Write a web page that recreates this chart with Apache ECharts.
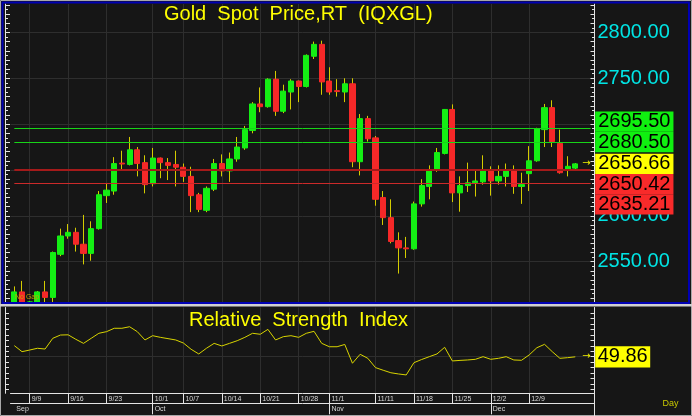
<!DOCTYPE html>
<html><head><meta charset="utf-8">
<script src="https://cdn.jsdelivr.net/npm/echarts@6/dist/echarts.min.js"></script>
<style>html,body{margin:0;padding:0;background:#161616}#c{width:692px;height:416px}</style>
</head><body><div id="c"></div>
<script>
// ---------------- data ----------------
const dates = ['9/5','9/6','9/9','9/10','9/11','9/12','9/13','9/16','9/17','9/18','9/19','9/20','9/23','9/24','9/25','9/26','9/27','9/30',
 '10/1','10/2','10/3','10/4','10/7','10/8','10/9','10/10','10/11','10/14','10/15','10/16','10/17','10/18','10/21','10/22','10/23','10/24','10/25','10/28','10/29','10/30','10/31',
 '11/1','11/4','11/5','11/6','11/7','11/8','11/11','11/12','11/13','11/14','11/15','11/18','11/19','11/20','11/21','11/22','11/25','11/26','11/27','11/28','11/29',
 '12/2','12/3','12/4','12/5','12/6','12/9','12/10','12/11','12/12','12/13','12/16','12/17'];
const opens = [2495,2517,2497,2506,2517,2511,2558,2578,2582,2569,2559,2586,2622,2627,2657.5,2656,2672,2658,
 2635,2663,2658,2656,2653,2643,2623,2606,2629,2657,2649,2662,2674,2693,2722,2719,2749,2714,2735,2747,2741,2774,2787,
 2747,2736.5,2735,2744,2659,2706,2685,2620,2598,2573,2565,2564,2613,2632,2650,2668,2716,2625,2633,2636,2637,
 2650,2638,2643,2650,2632,2646,2660,2694,2718,2679,2651,2652];
const closes = [2517,2497,2506,2517,2511,2560,2578,2582,2569,2559,2586,2623,2628,2657,2656.5,2672,2657,2634,
 2663,2658,2655,2653,2643,2622,2607,2630,2657,2649,2662,2675,2694,2722,2719,2749,2714,2736,2747,2741,2775,2787,2746,
 2735,2735.5,2744,2659,2706,2684,2618,2598,2572,2565,2564,2613,2633,2649,2669,2716,2625,2633,2636,2638,2649,
 2638,2643,2649,2632,2634,2660,2695,2718,2681,2647,2654,2656.66];
const lows = [2491,2485,2493,2500,2500,2506,2556,2575,2561,2547,2551,2585,2614,2623,2650,2655,2643,2624.5,
 2632,2641,2639,2632,2637,2604,2604,2604,2627,2643,2637,2659,2672,2690,2713,2718,2709,2712,2716,2724,2740,2771,2732,
 2732,2730,2724,2653,2644,2681,2611,2590,2570,2537,2554,2563,2610,2618,2648,2667,2615,2604.5,2626,2621,2634,
 2622,2634,2632,2624,2613,2627,2659,2675,2675,2646,2643,2650];
const highs = [2523,2529,2507,2518,2529,2561,2586,2591,2587,2601,2594,2627,2635,2664,2671,2686,2675,2666,
 2674,2663.5,2663,2671,2657,2653.5,2625,2632,2662,2667,2669,2686,2698,2724,2740,2750,2758,2743,2749,2747.5,2776,2790,2791,
 2762,2749,2750,2750,2711,2709,2687,2627,2618,2582,2577,2615.5,2640,2655,2674,2716.5,2721.5,2643,2658,2650,2666,
 2654,2655,2657,2655,2647,2676,2696,2722,2726,2694,2665,2657.5];
const rsi = [60.1,54.6,56.1,57.7,57.0,66.8,69.8,70.0,65.9,62.2,66.8,71.4,72.9,76.0,76.0,77.4,72.9,65.3,
 69.2,67.7,66.5,65.3,62.5,56.8,52.5,57.7,62.2,59.8,62.2,64.6,67.7,71.4,70.5,75.0,65.3,68.3,69.2,67.7,71.4,73.2,62.2,
 59.1,59.1,61.2,44.0,52.2,48.5,40.0,37.6,35.3,34.2,33.3,44.5,47.4,50.0,52.5,58.6,46.1,46.6,47.0,47.6,50.0,
 47.6,48.5,50.0,47.0,46.7,51.6,58.2,61.3,54.6,48.5,49.1,49.86];
const priceLevels = [2695.50, 2680.50, 2650.42, 2635.21];
const priceTickLabels = [2550, 2600, 2650, 2700, 2750, 2800];
const rsiGridLevels = [50];
const weekTicks = ['9/9','9/16','9/23','10/1','10/7','10/14','10/21','10/28','11/1','11/11','11/18','11/25','12/2','12/9'];
const monthNames = ['Sep','Oct','Nov','Dec'];
const padSlots = ['', ' '];

// ---------------- layout / style ----------------
const FONT = '"Liberation Sans", Arial, sans-serif';
const BG = '#161616', GRIDC = '#2e2e2e', AX = '#e4e4e4';
const UP = '#14ee14', DOWN = '#f52828', WICK = '#d4cc00';
const G = {left: 10.5, right: 97.5};
const P = {top: 4, height: 298, min: 2506, max: 2831};
const R = {top: 307.5, height: 85.8, min: 16.5, max: 95};
const NOLINE = {color: 'rgba(0,0,0,0)', width: 0};

const cats = dates.concat(padSlots);
const N = cats.length;
const lastClose = closes[closes.length - 1];
const lastRsi = rsi[rsi.length - 1];
const weekIdx = weekTicks.map(d => dates.indexOf(d));
const weekSet = new Set(weekIdx);
const monthLabelOf = {};
const monthTickSet = new Set();
let mk = 0;
dates.forEach((d, i) => {
  const m = d.split('/')[0];
  if (i === 0 || m !== dates[i - 1].split('/')[0]) {
    monthLabelOf[i] = monthNames[mk++];
    if (i > 0) monthTickSet.add(i);
  }
});
const steps = (a, b, s) => { const r = []; for (let v = a; v <= b + 1e-9; v += s) r.push(+v.toFixed(4)); return r; };
const majorP = steps(2510, 2830, 10), minorP = steps(2515, 2825, 10);
const rsiTicks = steps(20, 90, 5);
// the plot window clips candles that run past the bottom of the price panel
const clipP = v => Math.min(P.max, Math.max(P.min, v));

function tickAxis(grid, pos, offset, range, vals, len, showLine) {
  return {type: 'value', gridIndex: grid, position: pos, offset: offset, min: range.min, max: range.max,
    axisLine: {show: showLine, onZero: false, lineStyle: {color: AX, width: 1}},
    axisTick: {show: true, inside: true, length: len, customValues: vals, lineStyle: {color: AX, width: 1}},
    axisLabel: {show: false}, splitLine: {show: false}};
}
function splitAxisY(grid, range, vals) {
  return {type: 'value', gridIndex: grid, min: range.min, max: range.max, position: 'left',
    axisLine: {show: false, onZero: false}, axisTick: {show: false, customValues: vals},
    axisLabel: {show: false}, splitLine: {show: true, lineStyle: {color: GRIDC, width: 1}}};
}
function splitAxisX(grid) {
  return {type: 'value', gridIndex: grid, min: -0.5, max: N - 0.5, position: 'top',
    axisLine: {show: false, onZero: false}, axisTick: {show: false, customValues: weekIdx},
    axisLabel: {show: false}, splitLine: {show: true, lineStyle: {color: GRIDC, width: 1}}};
}

// price level labels (sorted top->bottom), colour from relation to last price
const levelItems = priceLevels.concat([lastClose]).sort((a, b) => b - a).map(v => ({
  value: v, kind: v > lastClose ? 'res' : (v < lastClose ? 'sup' : 'last')
}));
let supCount = 0;
levelItems.forEach(it => {
  if (it.kind === 'res') { it.bg = '#10f010'; it.line = {color: '#18d418', width: 1, type: 'solid'}; }
  else if (it.kind === 'sup') {
    it.bg = '#f82a2a';
    it.line = supCount === 0 ? {color: '#a41a1a', width: 2, type: 'solid'} : {color: '#cc2a2a', width: 1, type: 'solid'};
    supCount++;
  } else { it.bg = '#ffff00'; it.line = NOLINE; }
});
const anchorIdx = levelItems.findIndex(it => it.kind === 'last');

function levelMarkData(offsets) {
  return levelItems.map((it, k) => [
    {xAxis: 0, yAxis: it.value, lineStyle: it.line,
     label: {formatter: it.value.toFixed(2), backgroundColor: it.bg, offset: [0, offsets ? offsets[k] : 0]}},
    {xAxis: N - 1, yAxis: it.value}
  ]);
}
const boxLabel = {show: true, position: 'end', distance: 4.5, color: '#000', fontSize: 20, fontFamily: FONT,
  padding: [0, 3, 0, 3], lineHeight: 20.3};
const arrowLabel = {show: true, position: 'inside', formatter: '\u2192', color: '#f0f000', fontSize: 10,
  fontFamily: 'DejaVu Sans', offset: [3.5, -0.5]};

const chart = echarts.init(document.getElementById('c'), null, {renderer: 'canvas'});
const option = {
  backgroundColor: BG,
  animation: false,
  title: [
    {text: 'Gold  Spot  Price,RT  (IQXGL)', left: 164, top: 4, padding: 0,
     textStyle: {color: '#ffff00', fontSize: 20, fontWeight: 'normal', fontFamily: FONT}},
    {text: 'Relative  Strength  Index', left: 189, top: 310, padding: 0,
     textStyle: {color: '#ffff00', fontSize: 20, fontWeight: 'normal', fontFamily: FONT}}
  ],
  grid: [
    {left: G.left, right: G.right, top: P.top, height: P.height},
    {left: G.left, right: G.right, top: R.top, height: R.height}
  ],
  xAxis: [
    {type: 'category', gridIndex: 0, data: cats, boundaryGap: true, show: false},
    splitAxisX(0),
    {type: 'category', gridIndex: 1, data: cats, boundaryGap: true, position: 'bottom',
     axisLine: {show: true, onZero: false, lineStyle: {color: AX, width: 1}},
     axisTick: {show: true, alignWithLabel: true, interval: (i) => weekSet.has(i), length: 10, lineStyle: {color: AX}},
     axisLabel: {show: true, interval: (i) => weekSet.has(i), align: 'left', padding: [0, 0, 0, 2], margin: 2.5,
       color: '#d8d8d8', fontSize: 7, fontFamily: FONT},
     splitLine: {show: false}},
    {type: 'category', gridIndex: 1, data: cats, boundaryGap: true, position: 'bottom', offset: 10,
     axisLine: {show: true, onZero: false, lineStyle: {color: AX, width: 1}},
     axisTick: {show: true, alignWithLabel: true, interval: (i) => monthTickSet.has(i), length: 11, lineStyle: {color: AX}},
     axisLabel: {show: true, interval: (i) => monthLabelOf[i] !== undefined, formatter: (v, i) => monthLabelOf[i] || '',
       align: 'left', padding: [0, 0, 0, 2], margin: 2, color: '#d8d8d8', fontSize: 7, fontFamily: FONT},
     splitLine: {show: false}},
    splitAxisX(1)
  ],
  yAxis: [
    Object.assign(tickAxis(0, 'right', 0, P, majorP, 4, true), {
      axisLabel: {show: true, customValues: priceTickLabels, formatter: v => Number(v).toFixed(2), margin: 3,
        color: '#00e4e4', fontSize: 20, fontFamily: FONT}}),
    tickAxis(0, 'right', 0, P, minorP, 2.5, false),
    tickAxis(0, 'left', 5.5, P, majorP, 5, true),
    tickAxis(0, 'left', 5.5, P, minorP, 3, false),
    splitAxisY(0, P, priceTickLabels),
    tickAxis(1, 'right', 0, R, rsiTicks, 4, true),
    tickAxis(1, 'left', 5.5, R, rsiTicks, 4, true),
    splitAxisY(1, R, rsiGridLevels)
  ],
  series: [
    {type: 'candlestick', name: 'wick', xAxisIndex: 0, yAxisIndex: 0, barWidth: 0.4, silent: true, clip: true,
     data: dates.map((d, i) => [opens[i], closes[i], lows[i], highs[i]].map(clipP)),
     itemStyle: {color: WICK, color0: WICK, borderColor: WICK, borderColor0: WICK, borderColorDoji: WICK, borderWidth: 1}},
    {type: 'candlestick', name: 'body', xAxisIndex: 0, yAxisIndex: 0, barWidth: 5.7, silent: true, clip: true,
     data: dates.map((d, i) => [opens[i], closes[i], Math.min(opens[i], closes[i]), Math.max(opens[i], closes[i])].map(clipP)),
     itemStyle: {color: UP, color0: DOWN, borderColor: UP, borderColor0: DOWN, borderWidth: 1},
     markLine: {silent: true, symbol: ['none', 'none'], animation: false, label: boxLabel, data: levelMarkData(null)},
     markPoint: {silent: true, symbol: 'circle', symbolSize: 1, itemStyle: {color: 'rgba(0,0,0,0)'},
       label: arrowLabel, data: [{coord: [dates.length, lastClose]}]}},
    {type: 'line', name: 'RSI', xAxisIndex: 2, yAxisIndex: 5, data: rsi, symbol: 'none', silent: true,
     lineStyle: {color: '#d8d400', width: 1},
     markLine: {silent: true, symbol: ['none', 'none'], animation: false,
       label: Object.assign({}, boxLabel, {padding: [0.5, 2.5, 0.5, 2.5]}),
       data: [[{xAxis: 0, yAxis: lastRsi, lineStyle: NOLINE, label: {formatter: lastRsi.toFixed(2), backgroundColor: '#ffff00'}},
               {xAxis: N - 1, yAxis: lastRsi}]]},
     markPoint: {silent: true, symbol: 'circle', symbolSize: 1, itemStyle: {color: 'rgba(0,0,0,0)'},
       label: arrowLabel, data: [{coord: [dates.length, lastRsi]}]}}
  ],
  graphic: [
    {type: 'rect', z: 50, silent: true, shape: {x: 0.5, y: 0.5, width: 691, height: 415}, style: {fill: 'none', stroke: '#a8a8a8', lineWidth: 1}},
    {type: 'rect', z: 50, silent: true, shape: {x: 2.5, y: 2.5, width: 686.5, height: 300.5}, style: {fill: 'none', stroke: '#0000b4', lineWidth: 2}},
    {type: 'rect', z: 50, silent: true, shape: {x: 0, y: 304, width: 692, height: 2.6}, style: {fill: '#cfcfcf'}},
    {type: 'line', z: 50, silent: true, shape: {x1: 692 - G.right, y1: R.top + R.height, x2: 692 - G.right, y2: 416}, style: {stroke: AX, lineWidth: 1}},
    {type: 'text', z: 50, silent: true, x: 662.5, y: 399.5, style: {text: 'Day', fill: '#c8c800', fontSize: 9, fontFamily: FONT}},
    {type: 'text', z: 50, silent: true, x: 15, y: 294, style: {text: 'No Gap', fill: '#c8a000', fontSize: 7, fontFamily: FONT}}
  ]
};
chart.setOption(option);

// stack price labels so they do not overlap (anchored at last price)
function stackOffsets(values, anchor, yAxisIndex, pitch) {
  const ys = values.map(v => chart.convertToPixel({yAxisIndex: yAxisIndex}, v));
  const pos = ys.slice();
  for (let k = anchor - 1; k >= 0; k--) pos[k] = Math.min(ys[k], pos[k + 1] - pitch);
  for (let k = anchor + 1; k < values.length; k++) pos[k] = Math.max(ys[k], pos[k - 1] + pitch);
  return pos.map((p, k) => p - ys[k]);
}
const offs = stackOffsets(levelItems.map(it => it.value), anchorIdx, 0, 20.3);
chart.setOption({series: [{}, {markLine: {data: levelMarkData(offs)}}, {}]});
</script>
</body></html>
